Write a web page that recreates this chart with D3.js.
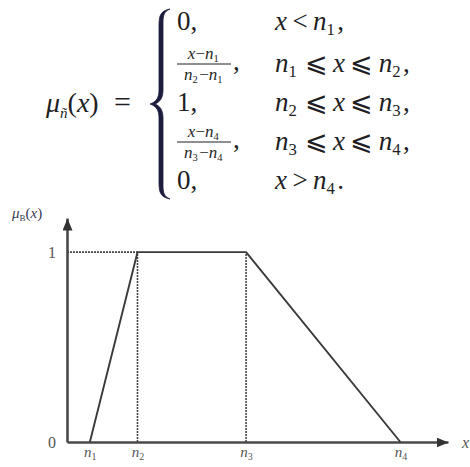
<!DOCTYPE html>
<html>
<head>
<meta charset="utf-8">
<script src="https://d3js.org/d3.v7.min.js"></script>
<style>
  body { margin: 0; background: #fff; }
  svg { display: block; }
</style>
</head>
<body>
<div id="graphic"></div>
<script>
// trapezoidal membership function: break points n1..n4 and the membership at each
var nNames = ["n1", "n2", "n3", "n4"];
var nValues = [0.6, 1.85, 4.7, 8.75];
var muValues = [0, 1, 1, 0];
var yTickValues = [0, 1];
var yTickLabels = ["0", "1"];
var xMax = 10, yMax = 1.18;

// formula rows: value part and condition part
var rowValues = ["0,", "frac:x-n1:n2-n1", "1,", "frac:x-n4:n3-n4", "0,"];
var rowConds = [["x", "\u2009<\u2009", "n1", ","], ["n1", "\u2009⩽\u2009", "x", "\u2009⩽\u2009", "n2", ","],
                ["n2", "\u2009⩽\u2009", "x", "\u2009⩽\u2009", "n3", ","],
                ["n3", "\u2009⩽\u2009", "x", "\u2009⩽\u2009", "n4", ","], ["x", "\u2009>\u2009", "n4", "."]];

var SERIF = "'Liberation Serif', Tinos, 'Times New Roman', 'DejaVu Serif', serif";
var W = 470, H = 467;
var svg = d3.select("#graphic").append("svg").attr("width", W).attr("height", H);

var defs = svg.append("defs");
defs.append("marker").attr("id", "arrow")
  .attr("markerUnits", "userSpaceOnUse")
  .attr("viewBox", "0 0 12 10").attr("refX", 12).attr("refY", 5)
  .attr("markerWidth", 12).attr("markerHeight", 10).attr("orient", "auto")
  .append("path").attr("d", "M0,0L12,5L0,10Z").attr("fill", "#333");

// ---------- formula ----------
var f = svg.append("g").attr("font-family", SERIF).attr("fill", "#1e1e24");

// writes a symbol like "n1" as italic n with subscript 1
function sym(t, s, size) {
  if (s === "x" || s === "n1" || s === "n2" || s === "n3" || s === "n4") {
    t.append("tspan").attr("font-style", "italic").text(s[0]);
    if (s.length > 1) {
      t.append("tspan").attr("font-size", size * 0.62).attr("dy", size * 0.2).text(s[1]);
      t.append("tspan").attr("dy", -size * 0.2).text("\u200a");
    }
  } else {
    t.append("tspan").text(s);
  }
}

var lhs = f.append("text").attr("x", 46).attr("y", 112).attr("font-size", 28);
lhs.append("tspan").attr("font-style", "italic").text("μ");
lhs.append("tspan").attr("font-size", 15).attr("font-style", "italic").attr("dy", 6).text("ñ");
lhs.append("tspan").attr("dy", -6).text("(");
lhs.append("tspan").attr("font-style", "italic").text("x");
lhs.append("tspan").text(")");
f.append("text").attr("x", 114).attr("y", 112).attr("font-size", 30).text("=");

// curly brace
f.append("path")
  .attr("d", "M170,9 C160,11 159,16 159,26 L159,90 C159,98 156,102 150,104 C156,106 159,110 159,118 L159,182 C159,192 160,197 170,199" +
             " C163,196 163,192 163,182 L163,118 C163,110 160,106 155,104 C160,102 163,98 163,90 L163,26 C163,16 163,12 170,9Z")
  .attr("fill", "#1c1c3c").attr("stroke", "#1c1c3c").attr("stroke-width", 0.8);

var rowBase = [30, 72, 111, 150, 189];
rowValues.forEach(function (v, i) {
  var yb = rowBase[i];
  if (v.indexOf("frac") === 0) {
    var p = v.split(":");
    [p[1], p[2]].forEach(function (part, k) {
      var t = f.append("text").attr("x", 204).attr("y", k === 0 ? yb - 13 : yb + 8)
        .attr("font-size", 17).attr("text-anchor", "middle");
      var m = part.split("-");
      sym(t, m[0], 17);
      t.append("tspan").text("−");
      sym(t, m[1], 17);
    });
    f.append("line").attr("x1", 177).attr("x2", 231).attr("y1", yb - 8).attr("y2", yb - 8)
      .attr("stroke", "#1e1e24").attr("stroke-width", 1);
    f.append("text").attr("x", 233).attr("y", yb - 2).attr("font-size", 27).text(",");
  } else {
    f.append("text").attr("x", 177).attr("y", yb).attr("font-size", 27).text(v);
  }
  var c = f.append("text").attr("x", 275).attr("y", yb).attr("font-size", 27);
  rowConds[i].forEach(function (s) { sym(c, s, 27); });
});

// ---------- graph ----------
var x = d3.scaleLinear().domain([0, xMax]).range([67, 448]);
var y = d3.scaleLinear().domain([0, yMax]).range([442, 218]);

var gx = svg.append("g").attr("transform", "translate(0," + y(0) + ")")
  .call(d3.axisBottom(x).tickValues(nValues).tickSize(0).tickSizeOuter(0).tickPadding(4)
    .tickFormat(function (d, i) { return nNames[i]; }));
var gy = svg.append("g").attr("transform", "translate(" + x(0) + ",0)")
  .call(d3.axisLeft(y).tickValues(yTickValues).tickSize(0).tickSizeOuter(0).tickPadding(11)
    .tickFormat(function (d, i) { return yTickLabels[i]; }));

[gx, gy].forEach(function (g) {
  g.attr("font-family", SERIF);
  g.select(".domain").attr("stroke", "#4a4a4a").attr("stroke-width", 2.6).attr("marker-end", "url(#arrow)");
});

gx.selectAll(".tick text").attr("font-size", 15).attr("fill", "#555")
  .each(function (d, i) {
    var t = d3.select(this).text("");
    t.append("tspan").attr("font-style", "italic").text(nNames[i][0]);
    t.append("tspan").attr("font-size", 10).attr("dy", 3).text(nNames[i][1]);
  });
gy.selectAll(".tick text").attr("font-size", 16).attr("fill", "#555");

// dotted guides
var guide = svg.append("g").attr("stroke", "#444").attr("stroke-width", 1.6).attr("stroke-dasharray", "2,1");
guide.append("line").attr("x1", x(0)).attr("x2", x(nValues[1])).attr("y1", y(1)).attr("y2", y(1));
[nValues[1], nValues[2]].forEach(function (v) {
  guide.append("line").attr("x1", x(v)).attr("x2", x(v)).attr("y1", y(0)).attr("y2", y(1));
});

// trapezoid
var line = d3.line().x(function (d) { return x(d[0]); }).y(function (d) { return y(d[1]); });
svg.append("path").datum(d3.zip(nValues, muValues)).attr("d", line)
  .attr("fill", "none").attr("stroke", "#3a3a3a").attr("stroke-width", 1.9).attr("stroke-linejoin", "round");

// axis titles
var yt = svg.append("text").attr("font-family", SERIF).attr("x", 12).attr("y", 218).attr("font-size", 15).attr("fill", "#3a3a55");
yt.append("tspan").attr("font-style", "italic").text("μ");
yt.append("tspan").attr("font-size", 9).attr("dy", 3).text("B");
yt.append("tspan").attr("dy", -3).text("(");
yt.append("tspan").attr("font-style", "italic").text("x");
yt.append("tspan").text(")");
svg.append("text").attr("font-family", SERIF).attr("fill", "#555").attr("x", 462).attr("y", 448).attr("font-size", 16)
  .attr("font-style", "italic").text("x");
</script>
</body>
</html>
